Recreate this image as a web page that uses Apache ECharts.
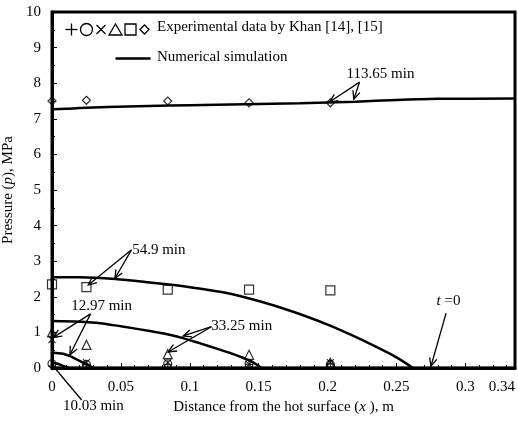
<!DOCTYPE html>
<html>
<head>
<meta charset="utf-8">
<script src="https://cdn.jsdelivr.net/npm/echarts@6/dist/echarts.min.js"></script>
<style>
  html, body { margin: 0; padding: 0; background: #fff; }
  #chart { width: 518px; height: 429px; }
</style>
</head>
<body>
<div id="chart"></div>
<script>
// Measurement stations along the sample, m
const stations = [0, 0.025, 0.084, 0.143, 0.202];

// Experimental pressures (MPa) at each station, Khan [14], [15]
const expPlus     = [0.05, 0.10, 0.10, 0.10, 0.12];
const expCircle   = [0.12, 0.10, 0.12, 0.12, 0.10];
const expCross    = [0.80, 0.15, 0.15, 0.10, 0.15];
const expTriangle = [1.00, 0.65, 0.39, 0.37, 0.15];
const expSquare   = [2.35, 2.27, 2.20, 2.20, 2.18];
const expDiamond  = [7.50, 7.52, 7.50, 7.45, 7.45];

// Numerical simulation profiles
const simT0X   = [0, 0.336];
const simT0Y   = [0, 0];
const sim1003X = [0, 0.004, 0.008, 0.012];
const sim1003Y = [0.15, 0.12, 0.06, 0];
const sim1297X = [0, 0.008, 0.015, 0.020, 0.025, 0.030];
const sim1297Y = [0.43, 0.40, 0.30, 0.20, 0.10, 0];
const sim3325X = [0, 0.020, 0.035, 0.050, 0.071, 0.082, 0.095, 0.107, 0.119, 0.130, 0.139, 0.146, 0.152];
const sim3325Y = [1.32, 1.30, 1.26, 1.17, 1.04, 0.96, 0.84, 0.70, 0.55, 0.41, 0.28, 0.16, 0];
const sim549X  = [0, 0.020, 0.046, 0.071, 0.100, 0.125, 0.150, 0.175, 0.200, 0.216, 0.235, 0.250, 0.262];
const sim549Y  = [2.55, 2.55, 2.50, 2.40, 2.27, 2.12, 1.88, 1.58, 1.22, 0.95, 0.60, 0.30, 0];
const sim11365X = [0, 0.010, 0.020, 0.040, 0.070, 0.100, 0.140, 0.180, 0.220, 0.250, 0.280, 0.336];
const sim11365Y = [7.27, 7.28, 7.30, 7.33, 7.36, 7.38, 7.41, 7.44, 7.48, 7.53, 7.56, 7.57];

// Axis ticks
const xTickStep = 0.05, xMax = 0.336;
const yTickStep = 1, yMax = 10;

// Callout arrows: [x from, y from, x to, y to, arrowhead]
const calloutArrows = [
  [0.2232, 8.03, 0.2014, 7.47, 1],
  [0.2232, 8.03, 0.2190, 7.55, 1],
  [0.0577, 3.32, 0.0263, 2.33, 1],
  [0.0577, 3.32, 0.0457, 2.52, 1],
  [0.0280, 1.52, 0.0010, 0.86, 1],
  [0.0280, 1.52, 0.0130, 0.37, 1],
  [0.1157, 1.16, 0.0952, 0.90, 1],
  [0.1157, 1.16, 0.0843, 0.45, 1],
  [0.2860, 1.54, 0.2750, 0.05, 1],
  [0.0215, -0.90, 0.0020, 0.00, 0]
];
// Callout texts and their anchors
const calloutText = ['113.65 min', '54.9 min', '12.97 min', '33.25 min', '{i|t} =0', '10.03 min'];
const calloutAt = [
  [0.2384, 8.25],
  [0.0775, 3.32],
  [0.0360, 1.75],
  [0.1377, 1.18],
  [0.2877, 1.87],
  [0.0300, -1.07]
];

const serif = '"Liberation Serif", "Times New Roman", serif';
const zip = (xs, ys) => xs.map((x, i) => [x, ys[i]]);

function simSeries(name, xs, ys) {
  return {
    name, type: 'line', data: zip(xs, ys), smooth: 0.3, symbol: 'none',
    lineStyle: { color: '#000', width: 2.5 }, z: 3, silent: true
  };
}
function expSeries(name, ys, symbol, size) {
  return {
    name, type: 'scatter', data: zip(stations, ys), symbol, symbolSize: size,
    itemStyle: { color: 'rgba(0,0,0,0)', borderColor: '#000', borderWidth: 1.2 },
    z: 4, silent: true
  };
}

const plusPath = 'path://M5,0L5,10M0,5L10,5';
const crossPath = 'path://M0,0L10,10M10,0L0,10';

const chart = echarts.init(document.getElementById('chart'));
chart.setOption({
  animation: false,
  backgroundColor: '#fff',
  textStyle: { fontFamily: serif, color: '#000' },
  grid: {
    left: 52, right: 3, top: 12, bottom: 61,
    outerBoundsMode: 'none', containLabel: false,
    show: true, borderColor: '#000', borderWidth: 3, backgroundColor: 'transparent'
  },
  xAxis: {
    type: 'value', min: 0, max: xMax, interval: xTickStep,
    name: 'Distance from the hot surface ({i|x} ), m',
    nameLocation: 'middle', nameGap: 31,
    nameTextStyle: { fontFamily: serif, fontSize: 15, color: '#000', rich: { i: { fontStyle: 'italic', fontFamily: serif, fontSize: 15 } } },
    axisLine: { lineStyle: { color: '#000', width: 3 } },
    axisTick: { inside: true, length: 5, lineStyle: { color: '#000', width: 1 } },
    minorTick: { show: true, splitNumber: 5, length: 3, lineStyle: { color: '#000', width: 1 } },
    splitLine: { show: false },
    axisLabel: {
      fontFamily: serif, fontSize: 15, color: '#000', margin: 12, alignMaxLabel: 'right',
      formatter: v => String(parseFloat(v.toFixed(2)))
    }
  },
  yAxis: {
    type: 'value', min: 0, max: yMax, interval: yTickStep,
    name: 'Pressure ({i|p}), MPa',
    nameLocation: 'middle', nameGap: 33,
    nameTextStyle: { fontFamily: serif, fontSize: 15, color: '#000', rich: { i: { fontStyle: 'italic', fontFamily: serif, fontSize: 15 } } },
    axisLine: { lineStyle: { color: '#000', width: 3 } },
    axisTick: { inside: true, length: 5, lineStyle: { color: '#000', width: 1 } },
    minorTick: { show: true, splitNumber: 2, length: 3, lineStyle: { color: '#000', width: 1 } },
    splitLine: { show: false },
    axisLabel: { fontFamily: serif, fontSize: 15, color: '#000', margin: 11 }
  },
  graphic: [
    // legend row 1: marker glyphs + caption
    { type: 'group', left: 63, top: 21, children: [
      { type: 'line', shape: { x1: 0, y1: 6, x2: 12, y2: 6 }, style: { stroke: '#000', lineWidth: 1.3 } },
      { type: 'line', shape: { x1: 6, y1: 0, x2: 6, y2: 12 }, style: { stroke: '#000', lineWidth: 1.3 } },
      { type: 'circle', shape: { cx: 21, cy: 6, r: 6 }, style: { fill: 'none', stroke: '#000', lineWidth: 1.3 } },
      { type: 'line', shape: { x1: 31, y1: 1.5, x2: 40, y2: 10.5 }, style: { stroke: '#000', lineWidth: 1.3 } },
      { type: 'line', shape: { x1: 40, y1: 1.5, x2: 31, y2: 10.5 }, style: { stroke: '#000', lineWidth: 1.3 } },
      { type: 'polygon', shape: { points: [[50, 0.5], [56.5, 11.5], [43.5, 11.5]] }, style: { fill: 'none', stroke: '#000', lineWidth: 1.3 } },
      { type: 'rect', shape: { x: 59.5, y: 0.5, width: 11, height: 11 }, style: { fill: 'none', stroke: '#000', lineWidth: 1.3 } },
      { type: 'polygon', shape: { points: [[79, 1.5], [83.5, 6], [79, 10.5], [74.5, 6]] }, style: { fill: 'none', stroke: '#000', lineWidth: 1.3 } }
    ] },
    { type: 'text', left: 157, top: 20, style: { text: 'Experimental data by Khan [14], [15]', font: '15px ' + serif, fill: '#000' } },
    // legend row 2: simulation line
    { type: 'line', left: 113, top: 56, shape: { x1: 0, y1: 0, x2: 35, y2: 0 }, style: { stroke: '#000', lineWidth: 2.5 } },
    { type: 'text', left: 157, top: 50, style: { text: 'Numerical simulation', font: '15px ' + serif, fill: '#000' } }
  ],
  series: [
    simSeries('t = 0', simT0X, simT0Y),
    simSeries('10.03 min', sim1003X, sim1003Y),
    simSeries('12.97 min', sim1297X, sim1297Y),
    simSeries('33.25 min', sim3325X, sim3325Y),
    simSeries('54.9 min', sim549X, sim549Y),
    simSeries('113.65 min', sim11365X, sim11365Y),
    expSeries('exp +', expPlus, plusPath, 8),
    expSeries('exp circle', expCircle, 'circle', 8),
    expSeries('exp cross', expCross, crossPath, 7),
    expSeries('exp triangle', expTriangle, 'triangle', 9),
    expSeries('exp square', expSquare, 'rect', 9),
    expSeries('exp diamond', expDiamond, 'diamond', 8),
    {
      name: 'callout arrows', type: 'custom', silent: true, z: 5,
      data: calloutArrows,
      encode: { x: [0, 2], y: [1, 3] },
      renderItem(params, api) {
        const p1 = api.coord([api.value(0), api.value(1)]);
        const p2 = api.coord([api.value(2), api.value(3)]);
        const children = [{ type: 'line', shape: { x1: p1[0], y1: p1[1], x2: p2[0], y2: p2[1] }, style: { stroke: '#000', lineWidth: 1.3 } }];
        if (api.value(4)) {
          const ang = Math.atan2(p2[1] - p1[1], p2[0] - p1[0]);
          const L = 9, spread = 0.42;
          const a = [p2[0] - L * Math.cos(ang - spread), p2[1] - L * Math.sin(ang - spread)];
          const b = [p2[0] - L * Math.cos(ang + spread), p2[1] - L * Math.sin(ang + spread)];
          children.push({ type: 'polyline', shape: { points: [a, p2, b] }, style: { stroke: '#000', fill: 'none', lineWidth: 1.3 } });
        }
        return { type: 'group', children };
      }
    },
    {
      name: 'callout text', type: 'custom', silent: true, z: 5,
      data: calloutAt,
      renderItem(params, api) {
        const p = api.coord([api.value(0), api.value(1)]);
        return {
          type: 'text', x: p[0], y: p[1],
          style: {
            text: calloutText[params.dataIndex], font: '15px ' + serif, fill: '#000',
            align: 'center', verticalAlign: 'middle',
            rich: { i: { fontStyle: 'italic', fontFamily: serif, fontSize: 15 } }
          }
        };
      }
    }
  ]
});
</script>
</body>
</html>
